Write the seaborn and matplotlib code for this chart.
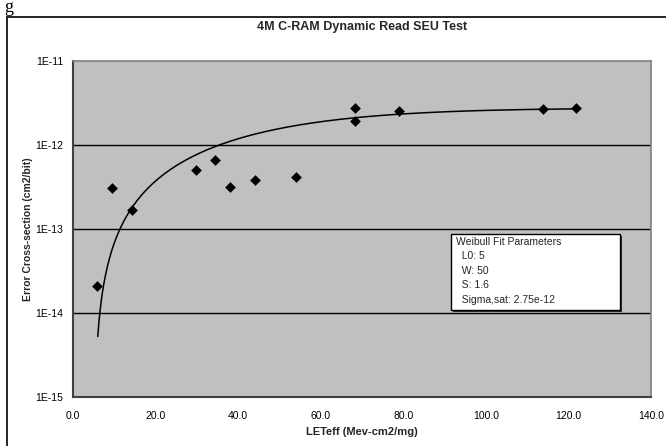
import numpy as np
import pandas as pd
import matplotlib
matplotlib.use("Agg")
import matplotlib.pyplot as plt
from matplotlib.patches import Rectangle
from matplotlib.ticker import FuncFormatter, FixedLocator
import seaborn as sns

# ---- data ----
let_eff = [5.7, 9.5, 14.3, 29.9, 34.5, 38.1, 44.1, 54.0, 68.3, 68.3, 79.0, 113.8, 121.8]
cross_section = [2.1e-14, 3.1e-13, 1.67e-13, 5.1e-13, 6.7e-13, 3.13e-13, 3.8e-13,
                 4.12e-13, 2.72e-12, 1.94e-12, 2.55e-12, 2.65e-12, 2.75e-12]
# Weibull fit parameters (shown in the chart's box)
L0 = 5
W = 50
S = 1.6
sigma_sat = 2.75e-12
fit_range = [6.0, 122.0]
x_ticks = [0, 20, 40, 60, 80, 100, 120, 140]
y_ticks = [1e-15, 1e-14, 1e-13, 1e-12, 1e-11]
title = "4M C-RAM Dynamic Read SEU Test"
xlabel = "LETeff (Mev-cm2/mg)"
ylabel = "Error Cross-section (cm2/bit)"
box_lines = ["Weibull Fit Parameters", "  L0: 5", "  W: 50", "  S: 1.6", "  Sigma,sat: 2.75e-12"]

sns.set_theme(style="white")
plt.rcParams['font.family'] = ['Liberation Sans', 'DejaVu Sans']

W_PX, H_PX = 666, 446
fig = plt.figure(figsize=(W_PX / 100, H_PX / 100), dpi=100)
fig.patch.set_facecolor("white")

def fx(px):
    return px / W_PX

def fy(py):
    return 1 - py / H_PX

# outer chart frame
fig.add_artist(Rectangle((fx(7), fy(448)), fx(700), fy(17) - fy(448),
                         transform=fig.transFigure, fill=False,
                         edgecolor="black", linewidth=1.2))
# document fragment at top-left
fig.text(fx(4), fy(12), "g", fontsize=13, family=["Liberation Serif"], ha="left",
         va="baseline", color="black")

ax_l, ax_r, ax_t, ax_b = 73, 651, 61, 397
ax = fig.add_axes([fx(ax_l), fy(ax_b), fx(ax_r - ax_l), fy(ax_t) - fy(ax_b)])
ax.set_facecolor("#C0C0C0")

# fit curve
xc = np.linspace(fit_range[0], fit_range[1], 400)
yc = sigma_sat * (1 - np.exp(-((xc - L0) / W) ** S))
sns.lineplot(x=xc, y=yc, ax=ax, color="black", linewidth=1.1, zorder=3)

df = pd.DataFrame({"x": let_eff, "y": cross_section})
sns.scatterplot(data=df, x="x", y="y", ax=ax, marker="D", s=30, color="black",
                edgecolor="black", linewidth=0, zorder=4)

ax.set_yscale("log")
ax.set_xlim(0, 140)
ax.set_ylim(1e-15, 1e-11)
ax.xaxis.set_major_locator(FixedLocator(x_ticks))
ax.yaxis.set_major_locator(FixedLocator(y_ticks))
ax.yaxis.set_minor_locator(FixedLocator([]))
ax.xaxis.set_major_formatter(FuncFormatter(lambda v, p: f"{v:.1f}"))
ax.yaxis.set_major_formatter(FuncFormatter(lambda v, p: f"1E{int(round(np.log10(v)))}"))

for yv in y_ticks[1:-1]:
    ax.axhline(yv, color="black", linewidth=1.0, zorder=1)

ax.tick_params(axis="both", which="major", direction="out", length=4, width=1,
               color="black", labelsize=7.5, labelcolor="black")
ax.tick_params(axis="y", pad=3)
ax.tick_params(axis="x", pad=6)
ax.tick_params(which="minor", length=0)

for side in ["left", "bottom"]:
    ax.spines[side].set_color("#404040")
    ax.spines[side].set_linewidth(1.5)
for side in ["top", "right"]:
    ax.spines[side].set_color("#808080")
    ax.spines[side].set_linewidth(1.2)
    ax.spines[side].set_visible(True)

ax.set_xlabel("")
ax.set_ylabel("")
fig.text(fx(362), fy(432), xlabel, ha="center", va="center", fontsize=8, fontweight="bold")
fig.text(fx(28), fy(229), ylabel, ha="center", va="center", fontsize=7.5,
         fontweight="bold", rotation=90)
fig.text(fx(362), fy(27), title, ha="center", va="center", fontsize=9, fontweight="bold")

# parameter box with shadow
bx0, bx1, by0, by1 = 451, 620, 234, 310
fig.add_artist(Rectangle((fx(bx0 + 2), fy(by1 + 2)), fx(bx1 - bx0), fy(by0) - fy(by1),
                         transform=fig.transFigure, facecolor="#303030",
                         edgecolor="none", zorder=5))
fig.add_artist(Rectangle((fx(bx0), fy(by1)), fx(bx1 - bx0), fy(by0) - fy(by1),
                         transform=fig.transFigure, facecolor="white",
                         edgecolor="black", linewidth=1, zorder=6))
for i, line in enumerate(box_lines):
    fig.text(fx(456), fy(242 + i * 14.4), line, ha="left", va="center", fontsize=7.5,
             zorder=7)

fig.savefig("out.png", dpi=100)
